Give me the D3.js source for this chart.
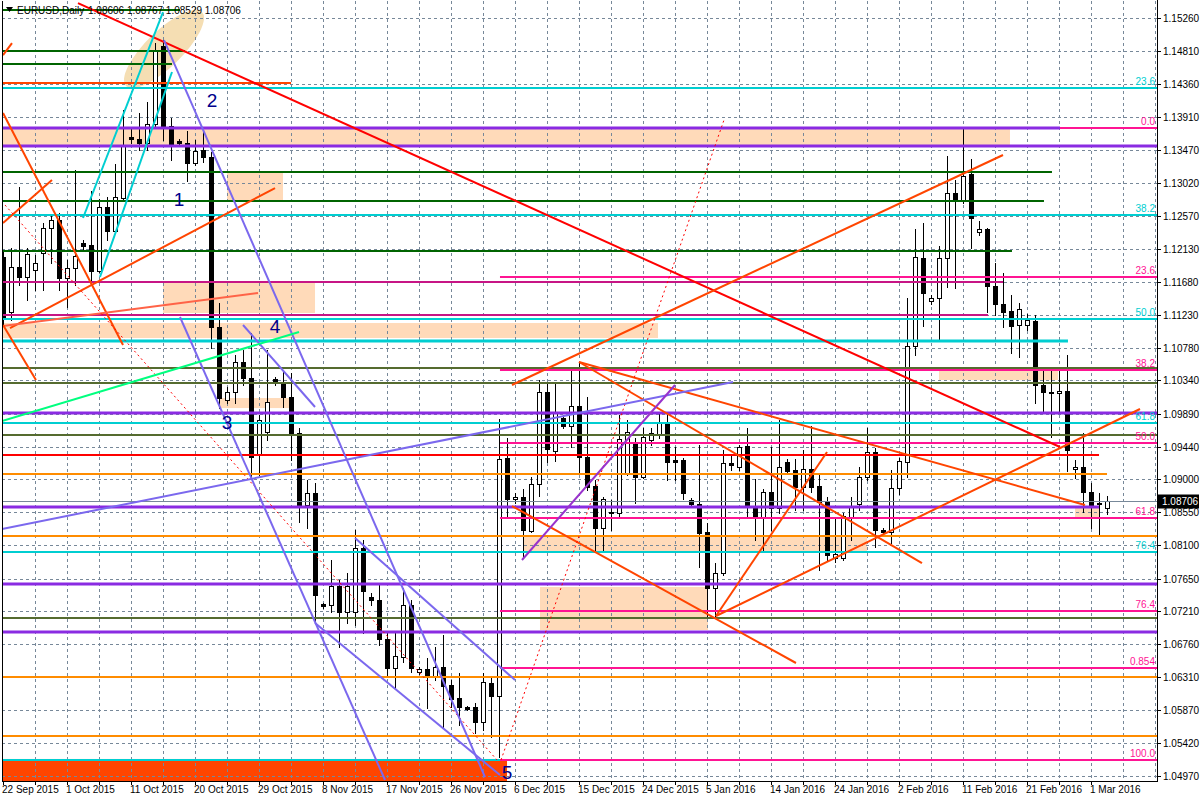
<!DOCTYPE html>
<html><head><meta charset="utf-8">
<script src="https://cdn.jsdelivr.net/npm/d3@7"></script>
<style>html,body{margin:0;padding:0;background:#fff;overflow:hidden}svg{display:block}</style>
</head><body>
<svg id="chart" width="1200" height="800"></svg>
<script>
// ---------------- DATA ----------------
const symbolTitle = "EURUSD,Daily";
const opens = [
1.12015,1.11269,1.11880,1.11744,1.11839,1.12070,1.12409,1.12518,1.11730,1.11866,
1.12205,1.12178,1.11825,1.12694,1.12368,1.12816,1.13644,1.13617,1.13563,1.13821,
1.14880,1.13794,1.13590,1.13563,1.13291,1.13468,1.13373,1.11065,1.10074,1.10183,
1.10590,1.10373,1.09327,1.09640,1.10359,1.10305,1.10115,1.09626,1.08649,1.08812,
1.07305,1.07291,1.07549,1.07196,1.07196,1.08065,1.07400,1.07359,1.06830,1.06436,
1.06585,1.07291,1.06382,1.06422,1.06314,1.06450,1.06205,1.06029,1.05907,1.05907,
1.05703,1.06232,1.06056,1.09287,1.08730,1.08757,1.08296,1.08934,1.10183,1.09382,
1.09830,1.09721,1.09993,1.09300,1.08907,1.08336,1.08554,1.08540,1.09083,1.09504,
1.09029,1.09531,1.09612,1.09748,1.09260,1.09260,1.08717,1.08662,1.08282,1.07522,
1.07726,1.09219,1.09165,1.09450,1.08622,1.08472,1.08825,1.08608,1.09232,1.09124,
1.08893,1.09137,1.08907,1.08689,1.07929,1.07929,1.08486,1.08662,1.09029,1.09368,
1.08309,1.08282,1.08879,1.09232,1.10807,1.12002,1.11418,1.11459,1.12002,1.12884,
1.12789,1.13142,1.12355,1.12395,1.11622,1.11377,1.11282,1.11092,1.11092,1.11146,
1.10278,1.10183,1.10169,1.10196,1.09137,1.09165,1.08825,1.08662,1.08606];
const highs = [
1.12110,1.12137,1.12966,1.12137,1.12042,1.12477,1.12585,1.12613,1.11975,1.13196,
1.12246,1.12911,1.12803,1.12830,1.13278,1.14011,1.13766,1.13970,1.14119,1.14920,
1.14961,1.13902,1.13617,1.13726,1.13604,1.13712,1.13441,1.11391,1.10251,1.10685,
1.10753,1.10984,1.09870,1.10753,1.10386,1.10454,1.10441,1.09694,1.08988,1.08947,
1.07318,1.07902,1.07631,1.07726,1.08309,1.08174,1.07454,1.07563,1.06911,1.06911,
1.07522,1.07359,1.06450,1.06572,1.06721,1.06884,1.06273,1.06368,1.05920,1.05961,
1.06368,1.06314,1.09816,1.09558,1.08812,1.08866,1.09029,1.10346,1.10318,1.10291,
1.09870,1.10481,1.10590,1.10115,1.08988,1.08757,1.08717,1.09870,1.09803,1.09558,
1.09694,1.09694,1.09911,1.09911,1.09436,1.09287,1.08744,1.09463,1.08404,1.07861,
1.09395,1.09327,1.09463,1.09694,1.09002,1.08866,1.09436,1.09803,1.09273,1.09273,
1.09395,1.09721,1.09069,1.08757,1.08486,1.08540,1.08757,1.09165,1.09694,1.09422,
1.08336,1.09124,1.09287,1.11459,1.12395,1.12477,1.11499,1.12165,1.13386,1.13061,
1.13753,1.13346,1.12504,1.12409,1.11934,1.11798,1.11499,1.11391,1.11241,1.11228,
1.10522,1.10481,1.10481,1.10685,1.09260,1.09626,1.08947,1.08812,1.08767];
const lows = [
1.11092,1.11160,1.11635,1.11432,1.11567,1.11567,1.11934,1.11567,1.11337,1.11635,
1.12110,1.11676,1.11812,1.12246,1.12355,1.12789,1.13563,1.13468,1.13468,1.13766,
1.13604,1.13332,1.13536,1.13047,1.13264,1.13305,1.10780,1.09965,1.10033,1.10033,
1.10278,1.09029,1.09056,1.09531,1.10278,1.09979,1.09260,1.08418,1.08336,1.07047,
1.07250,1.07196,1.06721,1.07047,1.07020,1.06911,1.07291,1.06748,1.06314,1.06164,
1.06517,1.06382,1.06354,1.05893,1.06273,1.05635,1.05907,1.05662,1.05866,1.05554,
1.05594,1.05499,1.05228,1.08472,1.08676,1.07929,1.08282,1.08771,1.09232,1.09246,
1.09694,1.09436,1.09097,1.08852,1.08038,1.08038,1.08309,1.08472,1.09056,1.08676,
1.09015,1.09463,1.09558,1.08988,1.08988,1.08730,1.08635,1.07807,1.07115,1.07115,
1.07698,1.09124,1.09124,1.08472,1.08174,1.08024,1.08309,1.08540,1.09083,1.08581,
1.08581,1.08825,1.07766,1.07902,1.07875,1.07902,1.08174,1.08581,1.08988,1.08078,
1.08241,1.08133,1.08798,1.09029,1.10685,1.11079,1.11377,1.10889,1.11608,1.11594,
1.12748,1.12137,1.12314,1.11269,1.11228,1.11065,1.10712,1.10658,1.11024,1.10033,
1.09898,1.09572,1.09898,1.09110,1.09015,1.08554,1.08336,1.08241,1.08529];
const closes = [
1.11187,1.11880,1.11744,1.12056,1.11934,1.12409,1.12518,1.11730,1.11866,1.12029,
1.12165,1.11825,1.12694,1.12368,1.12830,1.13536,1.13617,1.13563,1.13821,1.14825,
1.13766,1.13536,1.13563,1.13291,1.13454,1.13373,1.11065,1.10101,1.10183,1.10590,
1.10373,1.09300,1.09803,1.10047,1.10318,1.10115,1.09626,1.08649,1.08812,1.07427,
1.07278,1.07549,1.07196,1.07549,1.08065,1.07481,1.07359,1.06830,1.06436,1.06599,
1.07291,1.06436,1.06422,1.06314,1.06450,1.06192,1.06015,1.05907,1.05879,1.05703,
1.06246,1.06056,1.09273,1.08730,1.08757,1.08309,1.08934,1.10183,1.09409,1.09898,
1.09721,1.09993,1.09300,1.08893,1.08336,1.08730,1.08540,1.09545,1.09640,1.09029,
1.09572,1.09626,1.09762,1.09232,1.09232,1.08812,1.08662,1.08269,1.07522,1.07726,
1.09219,1.09192,1.09436,1.08622,1.08472,1.08825,1.08608,1.09165,1.09110,1.08893,
1.09137,1.08893,1.08689,1.07970,1.07983,1.08499,1.08635,1.09029,1.09368,1.08309,
1.08282,1.08879,1.09246,1.10807,1.12015,1.11527,1.11459,1.12002,1.12884,1.12789,
1.13115,1.12545,1.12395,1.11622,1.11377,1.11269,1.11079,1.11309,1.11160,1.10278,
1.10183,1.10169,1.10196,1.09395,1.09165,1.08825,1.08649,1.08676,1.08706];

const priceTickLabels = ["1.15260","1.14810","1.14360","1.13910","1.13470","1.13020","1.12570","1.12130",
"1.11680","1.11230","1.10780","1.10340","1.09890","1.09440","1.09000","1.08550","1.08100","1.07650",
"1.07210","1.06760","1.06310","1.05870","1.05420","1.04970"];
const dateTickLabels = ["22 Sep 2015","1 Oct 2015","11 Oct 2015","20 Oct 2015","29 Oct 2015","8 Nov 2015",
"17 Nov 2015","26 Nov 2015","6 Dec 2015","15 Dec 2015","24 Dec 2015","5 Jan 2016","14 Jan 2016",
"24 Jan 2016","2 Feb 2016","11 Feb 2016","21 Feb 2016","1 Mar 2016"];
const barsPerDateLabel = 8, barsPerGrid = 4;

// Fibonacci levels (price) and labels
const fibCyanLevels = [1.14309,1.12585,1.11174,1.09762,1.08011];
const fibCyanLabels = ["23.6","38.2","50.0","61.8","76.4"];
const fibPinkLevels = [1.13766,1.11744,1.10481,1.09490,1.08472,1.07210,1.06436,1.05187];
const fibPinkLabels = ["0.0","23.6","38.2","50.0","61.8","76.4","0.854","100.0"];

// horizontal level lines: [price, fromBar, toBar, styleKey]
const levelLines = [
[1.15368,-0.2,22.06,'dg'],[1.14812,-0.2,22.69,'dg'],[1.14635,-0.2,21.06,'dg'],[1.14377,-0.2,35.94,'orr'],
[1.14309,-0.2,144.2,'cy'],[1.13766,62.06,144.2,'pk'],[1.13766,-0.2,132.06,'pu'],[1.13522,-0.2,144.2,'pu'],
[1.13169,-0.2,131.06,'dg'],[1.12775,-0.2,130.06,'dg'],[1.12585,-0.2,144.2,'cy'],[1.12097,-0.2,126.06,'dg'],
[1.11744,62.06,144.2,'pk'],[1.11676,-0.2,124.94,'mv'],[1.11228,-0.2,123.06,'mv'],[1.11174,-0.2,144.2,'cy'],
[1.10875,-0.2,133.06,'cy3'],[1.10508,-0.2,144.2,'ol'],[1.10481,62.06,144.2,'pk'],[1.10305,-0.2,144.2,'ol'],
[1.09898,-0.2,144.2,'pu'],[1.09762,-0.2,144.2,'cy'],[1.09599,-0.2,144.2,'ol'],[1.09490,62.06,144.2,'pk'],
[1.09327,-0.2,136.94,'rd'],[1.09069,-0.2,137.94,'or'],[1.08622,-0.2,136.94,'pu'],[1.08472,62.06,144.2,'pk'],
[1.08228,-0.2,144.2,'or'],[1.08011,-0.2,144.2,'cy'],[1.07576,-0.2,144.2,'pu'],[1.07210,62.06,144.2,'pk'],
[1.07115,-0.2,144.2,'ol'],[1.06925,-0.2,144.2,'pu'],[1.06436,62.06,144.2,'pk'],[1.06314,-0.2,144.2,'or'],
[1.05513,-0.2,144.2,'or'],[1.05187,62.06,144.2,'pk'],[1.05187,-0.2,62.06,'cy']
];
// trend lines: [bar1, price1, bar2, price2, styleKey]
const trendLines = [
[9.31,1.15463,132.06,1.09436,'rd'],
[63.56,1.10278,124.94,1.13400,'orr'],
[71.94,1.10590,135.19,1.08649,'orr'],
[71.94,1.10590,114.81,1.07861,'orr'],
[63.56,1.08635,99.06,1.06504,'orr'],
[89.06,1.07142,102.94,1.09368,'orr'],
[89.06,1.07142,142.06,1.09952,'orr'],
[-0.06,1.13970,14.94,1.10821,'orr'],
[-0.06,1.12477,6.06,1.13061,'orr'],
[0.81,1.11051,33.94,1.12952,'orr'],
[-0.06,1.11079,31.81,1.11527,'tom'],
[-0.06,1.11092,4.06,1.10346,'orr'],
[-0.06,1.14757,1.06,1.14920,'orr'],
[0.19,1.12721,61.69,1.05187,'dot'],
[62.19,1.05187,90.06,1.13875,'dot'],
[20.06,1.14961,60.19,1.04956,'vio'],
[22.06,1.11201,47.69,1.04916,'vio'],
[29.94,1.11092,38.94,1.09979,'vio'],
[-0.19,1.08323,91.19,1.10318,'vio'],
[38.94,1.07047,62.06,1.04983,'vio'],
[43.94,1.08201,63.94,1.06273,'vio'],
[64.81,1.07902,83.94,1.10278,'dor'],
[9.94,1.12545,19.94,1.15341,'cy'],
[12.06,1.11744,21.06,1.14527,'cy'],
[-0.19,1.09789,36.94,1.10997,'sg']
];
// zones: [bar1, price1, bar2, price2, styleKey]
const zones = [
[-0.19,1.13766,125.81,1.13522,'zone'],[27.94,1.13156,34.94,1.12789,'zone'],[19.94,1.11662,38.94,1.11255,'zone'],
[-0.19,1.11119,81.81,1.10916,'zone'],[27.06,1.10101,35.81,1.09965,'zone'],[64.94,1.08214,107.94,1.07997,'zone'],
[67.06,1.07536,88.06,1.06952,'zone'],[116.94,1.10481,131.81,1.10346,'zone'],[133.94,1.08622,137.06,1.08486,'zone'],
[-0.19,1.05201,62.94,1.04902,'solid']
];
// ellipse major axis ends: [bar, price]
const ellipseAxis = [[15.31,1.14337],[24.81,1.15341]];
// wave labels: [text, bar, price]
const waveLabels = [["1",21.94,1.12803],["2",26.06,1.14147],["3",27.94,1.09775],["4",33.94,1.11079],["5",62.94,1.05024]];

// ---------------- STYLES / LAYOUT ----------------
const STY = {
  dg:{c:'#006400',w:2}, cy:{c:'#00CED1',w:2}, cy3:{c:'#00CED1',w:3}, pk:{c:'#FF1493',w:2},
  pu:{c:'#8A2BE2',w:3}, mv:{c:'#C71585',w:2}, ol:{c:'#556B2F',w:2}, rd:{c:'#FF0000',w:2},
  or:{c:'#FF8C00',w:2}, orr:{c:'#FF4500',w:2}, tom:{c:'#FF6347',w:2}, vio:{c:'#7B68EE',w:2},
  dor:{c:'#9932CC',w:2}, sg:{c:'#00FF7F',w:2}, dot:{c:'#FF0000',w:1,dash:'2,3'},
  zone:{f:'#FFDAB9'}, solid:{f:'#FF4500'}
};
const FONT = "'Liberation Sans', Arial, sans-serif";
const L = 2, R = 1157, T = 1, B = 781;

const svg = d3.select('#chart');
const x = d3.scaleLinear().domain([0, opens.length - 1]).range([3.5, 1107.5]);
const y = d3.scaleLinear().domain([1.04970, 1.15260]).range([776, 18]);

svg.append('rect').attr('width',1200).attr('height',800).attr('fill','#fff');
svg.append('defs').append('clipPath').attr('id','plot')
  .append('rect').attr('x',L).attr('y',T).attr('width',R-L).attr('height',B-T);
const plot = svg.append('g').attr('clip-path','url(#plot)');

// zones & ellipse (background)
plot.append('g').selectAll('rect').data(zones).join('rect')
  .attr('x',d=>Math.min(x(d[0]),x(d[2]))).attr('y',d=>Math.min(y(d[1]),y(d[3])))
  .attr('width',d=>Math.abs(x(d[2])-x(d[0]))).attr('height',d=>Math.abs(y(d[3])-y(d[1])))
  .attr('fill',d=>STY[d[4]].f);
{
  const ax=x(ellipseAxis[0][0]), ay=y(ellipseAxis[0][1]), bx=x(ellipseAxis[1][0]), by=y(ellipseAxis[1][1]);
  const cx=(ax+bx)/2, cy=(ay+by)/2, rx=Math.hypot(bx-ax,by-ay)/2, ang=Math.atan2(by-ay,bx-ax)*180/Math.PI;
  plot.append('ellipse').attr('cx',cx).attr('cy',cy).attr('rx',rx).attr('ry',18)
    .attr('transform',`rotate(${ang},${cx},${cy})`).attr('fill','#F5DEB3');
}

// grid
const grid = plot.append('g').attr('stroke','#778899').attr('stroke-width',1).attr('stroke-dasharray','3,3');
priceTickLabels.forEach(t=>{
  const yy=Math.round(y(+t))+0.5;
  grid.append('line').attr('x1',L).attr('x2',R).attr('y1',yy).attr('y2',yy);
});
d3.range(barsPerGrid, 145, barsPerGrid).forEach(b=>{
  const xx=x(b);
  grid.append('line').attr('x1',xx).attr('x2',xx).attr('y1',T).attr('y2',B);
});

// candles
const cg = plot.append('g');
opens.forEach((o,i)=>{
  const c=closes[i], h=highs[i], l=lows[i], cx=x(i);
  cg.append('line').attr('x1',cx).attr('x2',cx).attr('y1',Math.round(y(h))).attr('y2',Math.round(y(l))+1)
    .attr('stroke','#000').attr('stroke-width',1);
  const yt=Math.round(y(Math.max(o,c))), yb=Math.round(y(Math.min(o,c)));
  if (yb-yt < 1) {
    cg.append('line').attr('x1',cx-2.5).attr('x2',cx+2.5).attr('y1',yt+0.5).attr('y2',yt+0.5).attr('stroke','#000');
  } else if (c > o) {
    cg.append('rect').attr('x',cx-2).attr('y',yt+0.5).attr('width',4).attr('height',yb-yt)
      .attr('fill','#fff').attr('stroke','#000').attr('stroke-width',1);
  } else {
    cg.append('rect').attr('x',cx-2.5).attr('y',yt).attr('width',5).attr('height',yb-yt+1).attr('fill','#000');
  }
});

// bid line
const bid = closes[closes.length-1];
plot.append('line').attr('x1',L).attr('x2',R).attr('y1',Math.round(y(bid))+0.5).attr('y2',Math.round(y(bid))+0.5)
  .attr('stroke','#778899').attr('stroke-width',1);

// level lines
plot.append('g').selectAll('line').data(levelLines).join('line')
  .attr('x1',d=>x(d[1])).attr('x2',d=>x(d[2])).attr('y1',d=>y(d[0])).attr('y2',d=>y(d[0]))
  .attr('stroke',d=>STY[d[3]].c).attr('stroke-width',d=>STY[d[3]].w);

// trend lines
plot.append('g').selectAll('line').data(trendLines).join('line')
  .attr('x1',d=>x(d[0])).attr('y1',d=>y(d[1])).attr('x2',d=>x(d[2])).attr('y2',d=>y(d[3]))
  .attr('stroke',d=>STY[d[4]].c).attr('stroke-width',d=>STY[d[4]].w)
  .attr('stroke-dasharray',d=>STY[d[4]].dash||null);

// fib labels
const fl = plot.append('g').attr('font-family',FONT).attr('font-size',10).attr('text-anchor','end');
fibCyanLevels.forEach((p,i)=>fl.append('text').attr('x',R-2).attr('y',y(p)-3).attr('fill','#00CED1').text(fibCyanLabels[i]));
fibPinkLevels.forEach((p,i)=>fl.append('text').attr('x',R-2).attr('y',y(p)-3).attr('fill','#FF1493').text(fibPinkLabels[i]));

// wave labels
plot.append('g').selectAll('text').data(waveLabels).join('text')
  .attr('x',d=>x(d[1])).attr('y',d=>y(d[2])+7).attr('text-anchor','middle')
  .attr('font-family',FONT).attr('font-size',19).attr('fill','#00008B').text(d=>d[0]);

// frame
const fr = svg.append('g').attr('stroke','#000').attr('stroke-width',1);
fr.append('line').attr('x1',L+0.5).attr('x2',L+0.5).attr('y1',T).attr('y2',B+0.5);
fr.append('line').attr('x1',R+0.5).attr('x2',R+0.5).attr('y1',0).attr('y2',B+0.5);
fr.append('line').attr('x1',L).attr('x2',R+1).attr('y1',B+0.5).attr('y2',B+0.5);

// price axis
const ya = svg.append('g').attr('font-family',FONT).attr('font-size',10).attr('fill','#000');
priceTickLabels.forEach(t=>{
  const yy=Math.round(y(+t))+0.5;
  ya.append('line').attr('x1',R).attr('x2',R+4).attr('y1',yy).attr('y2',yy).attr('stroke','#000');
  ya.append('text').attr('x',R+6).attr('y',yy+3.5).text(t);
});
{
  const yy=Math.round(y(bid))+0.5;
  ya.append('rect').attr('x',R+1).attr('y',yy-7).attr('width',41).attr('height',14).attr('fill','#000');
  ya.append('text').attr('x',R+5).attr('y',yy+3.5).attr('fill','#fff').text(bid.toFixed(5));
}

// time axis
const xa = svg.append('g').attr('font-family',FONT).attr('font-size',10).attr('fill','#000');
d3.range(0, opens.length, barsPerGrid).forEach(b=>{
  xa.append('line').attr('x1',x(b)).attr('x2',x(b)).attr('y1',B).attr('y2',B+4).attr('stroke','#000');
});
dateTickLabels.forEach((t,k)=>{
  xa.append('text').attr('x',x(k*barsPerDateLabel)-1.5).attr('y',B+12).text(t);
});

// header
const hd = svg.append('g').attr('font-family',FONT).attr('font-size',10).attr('fill','#000');
hd.append('path').attr('d','M6,7 L13,7 L9.5,12 Z').attr('fill','#000');
const last = opens.length-1;
hd.append('text').attr('x',17).attr('y',14).text(symbolTitle);
hd.append('text').attr('x',88).attr('y',14)
  .text(`${opens[last].toFixed(5)} ${highs[last].toFixed(5)} ${lows[last].toFixed(5)} ${closes[last].toFixed(5)}`);
</script>
</body></html>
